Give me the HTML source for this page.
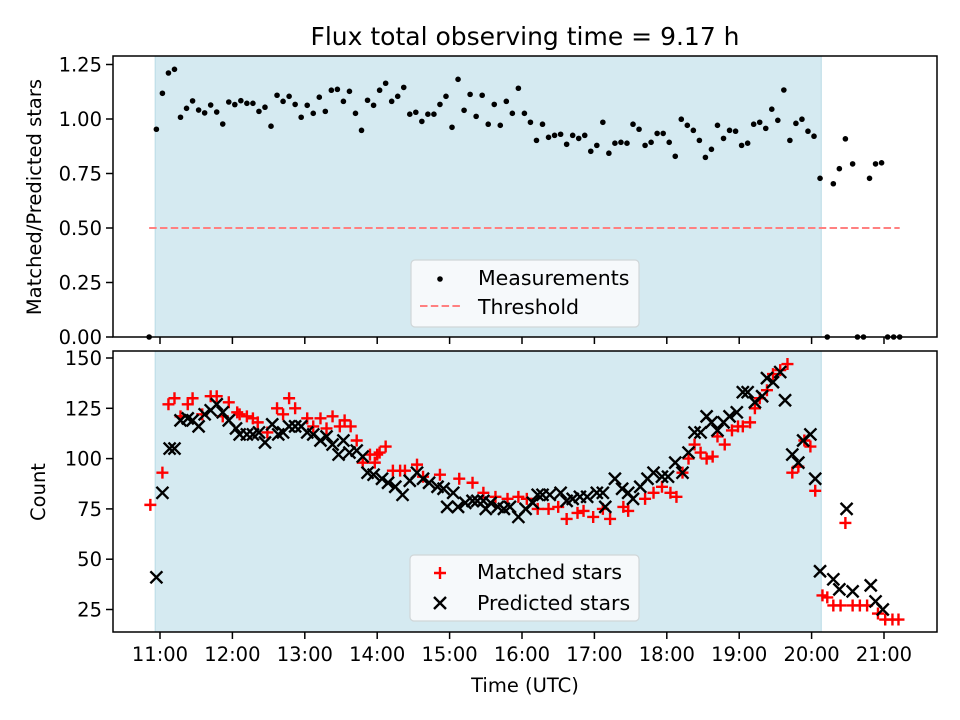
<!DOCTYPE html>
<html><head><meta charset="utf-8"><style>
body{margin:0;background:#fff}
svg{display:block;font-family:"DejaVu Sans","Liberation Sans",sans-serif}
</style></head><body>
<svg id="fig" width="960" height="720" viewBox="0 0 960 720" xmlns="http://www.w3.org/2000/svg"></svg>
<script>
// ---- data (times in minutes since midnight UTC) ----
const ratioTimes=[657,662,667,672,677,682,687,692,697,702,707,712,717,722,727,732,737,742,747,752,757,762,767,772,777,782,787,792,797,802,807,812,817,822,827,832,837,842,847,852,857,862,867,872,877,882,887,892,897,902,907,912,917,922,927,932,937,942,947,952,957,962,967,972,977,982,987,992,997,1002,1007,1012,1017,1022,1027,1032,1037,1042,1047,1052,1057,1062,1067,1072,1077,1082,1087,1092,1097,1102,1107,1112,1117,1122,1127,1132,1137,1142,1147,1152,1157,1162,1167,1172,1177,1182,1187,1192,1197,1202,1207,1218,1223,1228,1234,1248,1253,1258,651,1213,1238,1243,1263,1268,1273];
const ratioValues=[0.953,1.118,1.211,1.228,1.008,1.049,1.083,1.041,1.028,1.064,1.032,0.977,1.078,1.066,1.084,1.072,1.072,1.035,1.054,0.967,1.109,1.081,1.104,1.067,1.008,1.063,1.026,1.1,1.035,1.132,1.136,1.081,1.127,1.026,0.948,1.086,1.063,1.132,1.164,1.081,1.104,1.145,1.022,1.031,0.989,1.022,1.022,1.067,1.104,0.962,1.182,1.04,1.113,1.012,1.109,0.976,1.067,0.971,1.081,1.026,1.141,1.026,0.985,0.902,
0.976,0.916,0.925,0.93,0.884,0.925,0.911,0.925,0.852,0.879,0.985,0.843,0.889,0.893,0.889,0.976,0.953,0.879,0.893,0.934,0.934,0.893,0.829,0.999,0.971,0.948,0.902,0.824,0.861,0.971,0.911,0.948,0.944,0.879,0.889,0.976,0.985,0.957,1.045,0.994,1.133,0.902,0.98,0.999,0.944,0.921,0.728,
0.703,0.772,0.909,0.794,0.728,0.794,0.799,0,0,0,0,0,0,0];
const threshold=0.5;
const predTimes=[657,662,668,672,677,683,687,692,697,702,707,712,717,723,726,732,737,742,747,753,758,762,767,772,777,782,787,793,798,803,808,812,817,823,828,832,837,844,849,855,861,867,873,878,883,890,895,898,903,907,913,919,923,928,930,934,940,945,950,957,963,969,973,977,983,992,997,1002,1008,1014,1022,1027,1029,1037,1043,1048,1052,1058,1064,1069,1076,1081,1087,1093,1098,1103,1108,1113,1117,1122,1127,1132,1138,1143,1147,1153,1159,1163,1168,1174,1178,1184,1189,1193,1199,1203,1207,1218,1223,1229,1234,1249,1253,1259];
const predValues=[41,83,105,105,119,120,119,116,122,124,127,123,119,115,112,112,112,113,108,117,112,113,116,116,116,113,112,109,111,107,102,109,103,104,101,93,92,90,88,86,82,89,93,90,88,86,85,76,83,76,78,79,79,79,75,78,76,75,76,71,75,78,82,82,82,83,79,80,81,81,83,83,76,90,85,83,80,86,90,93,91,91,98,93,103,113,113,121,118,114,118,121,123,133,133,128,131,140,138,143,129,102,98,109,112,90,44,40,35,75,34,37,29,25];
const matchTimes=[652,662,667,672,677,683,687,695,702,707,712,717,724,726,732,737,741,749,757,762,767,772,782,787,793,798,803,809,813,818,823,828,834,838,840,842,847,853,859,863,873,878,892,908,919,928,938,948,957,964,973,982,990,997,1006,1011,1019,1027,1033,1044,1048,1062,1069,1076,1083,1088,1093,1098,1103,1108,1113,1118,1122,1128,1134,1139,1143,1149,1153,1157,1163,1168,1174,1180,1184,1189,1194,1199,1203,1209,1213,1218,1224,1228,1234,1240,1246,1255,1261,1267,1272];
const matchValues=[77,93,127,130,121,127,130,122,131,131,121,128,123,122,121,120,118,113,125,122,130,125,120,116,120,115,121,116,119,116,109,98,102,98,102,103,106,94,94,94,97,91,92,90,88,83,81,80,81,80,75,75,76,70,73,74,71,75,70,76,74,80,83,86,83,81,93,100,107,103,100,101,111,107,114,116,116,118,125,130,134,142,144,147,93,96,109,106,84,32,31,27,27,68,27,27,27,23,20,20,20];
const xTickLabels=["11:00","12:00","13:00","14:00","15:00","16:00","17:00","18:00","19:00","20:00","21:00"];
const xTickMinutes=[660,720,780,840,900,960,1020,1080,1140,1200,1260];
const topTicks=[0,0.25,0.5,0.75,1.0,1.25];
const topTickLabels=["0.00","0.25","0.50","0.75","1.00","1.25"];
const botTicks=[25,50,75,100,125,150];
const shadeStart=656, shadeEnd=1208;

// ---- layout ----
const NS="http://www.w3.org/2000/svg";
const svg=document.getElementById('fig');
const L=113,R=937,T1=56,B1=337,T2=351,B2=632;
const FS=19.5;
const x=m=>160+(m-660)*72.4/60;
const y1=v=>337-v*218;
const y2=v=>358+(150-v)*50.3/25;
function el(tag,attrs,parent){const e=document.createElementNS(NS,tag);for(const k in attrs)e.setAttribute(k,attrs[k]);(parent||svg).appendChild(e);return e;}
function txt(s,attrs,parent){const e=el('text',attrs,parent);e.textContent=s;return e;}

// title
let t=txt("Flux total observing time = 9.17 h",{x:525,y:45,'font-size':25,'text-anchor':'middle',fill:'#000'});



function panel(top,bot,name){
  const g=el('g',{});
  
  
  const sh=el('rect',{x:x(shadeStart),y:top,width:x(shadeEnd)-x(shadeStart),height:bot-top,fill:'#d5eaf1',stroke:'#b9dbe6','stroke-width':1},g);
  
  
  return g;
}
function frame(g,top,bot){
  const f=el('rect',{x:L,y:top,width:R-L,height:bot-top,fill:'none',stroke:'#000','stroke-width':1.5},g);
  
  
  xTickMinutes.forEach(m=>{
    const tk=el('line',{x1:x(m),x2:x(m),y1:bot,y2:bot+7,stroke:'#000','stroke-width':1.5},g);
    
    
  });
}

// ---- top panel ----
const g1=panel(T1,B1,'ratio-panel');
const thr=el('line',{x1:x(651),x2:x(1273),y1:y1(threshold),y2:y1(threshold),stroke:'#ff8080','stroke-width':2,'stroke-dasharray':'7.5,3.3'},g1);


ratioTimes.forEach((m,i)=>{
  const c=el('circle',{cx:x(m),cy:y1(ratioValues[i]),r:2.8,fill:'#000'},g1);
  
  
});
frame(g1,T1,B1);
topTicks.forEach((v,i)=>{
  const tk=el('line',{x1:L-7,x2:L,y1:y1(v),y2:y1(v),stroke:'#000','stroke-width':1.5},g1);
  
  
  const lb=txt(topTickLabels[i],{x:L-11,y:y1(v)+7,'font-size':FS,'text-anchor':'end'},g1);
  
  
});
let yl=txt("Matched/Predicted stars",{x:0,y:0,'font-size':FS,'text-anchor':'middle',transform:'translate(41,197) rotate(-90)'},g1);


// legend top
const lg1=el('g',{},g1);


el('rect',{x:411,y:260,width:228,height:67,rx:4,fill:'#f6f9fb',stroke:'#d0d6d8','stroke-width':1.2},lg1);
el('circle',{cx:440,cy:279,r:2.8,fill:'#000'},lg1);
txt("Measurements",{x:478,y:285,'font-size':20.5},lg1);
el('line',{x1:420,x2:462,y1:306,y2:306,stroke:'#ff8080','stroke-width':2,'stroke-dasharray':'7.5,3.3'},lg1);
txt("Threshold",{x:478,y:314,'font-size':20.5},lg1);

// ---- bottom panel ----
const g2=panel(T2,B2,'count-panel');
matchTimes.forEach((m,i)=>{
  const px=x(m),py=y2(matchValues[i]);
  const p=el('path',{d:`M${px-6},${py}H${px+6}M${px},${py-6}V${py+6}`,stroke:'#ff0000','stroke-width':2.4,fill:'none'},g2);
  
  
});
predTimes.forEach((m,i)=>{
  const px=x(m),py=y2(predValues[i]);
  const p=el('path',{d:`M${px-6},${py-6}L${px+6},${py+6}M${px-6},${py+6}L${px+6},${py-6}`,stroke:'#000','stroke-width':2.4,fill:'none'},g2);
  
  
});
frame(g2,T2,B2);
botTicks.forEach(v=>{
  const tk=el('line',{x1:L-7,x2:L,y1:y2(v),y2:y2(v),stroke:'#000','stroke-width':1.5},g2);
  
  
  const lb=txt(String(v),{x:L-11,y:y2(v)+7,'font-size':FS,'text-anchor':'end'},g2);
  
  
});
xTickMinutes.forEach((m,i)=>{
  const lb=txt(xTickLabels[i],{x:x(m),y:B2+29,'font-size':FS,'text-anchor':'middle'},g2);
  
  
});
let yl2=txt("Count",{x:0,y:0,'font-size':FS,'text-anchor':'middle',transform:'translate(45,492) rotate(-90)'},g2);


let xl=txt("Time (UTC)",{x:525,y:692,'font-size':FS,'text-anchor':'middle'},g2);


const lg2=el('g',{},g2);


el('rect',{x:410,y:555,width:229,height:66,rx:4,fill:'#f6f9fb',stroke:'#d0d6d8','stroke-width':1.2},lg2);
el('path',{d:'M434,573H446M440,567V579',stroke:'#ff0000','stroke-width':2.4},lg2);
txt("Matched stars",{x:477,y:579,'font-size':20.5},lg2);
el('path',{d:'M434,597L446,609M434,609L446,597',stroke:'#000','stroke-width':2.4},lg2);
txt("Predicted stars",{x:477,y:610,'font-size':20.5},lg2);
</script>
</body></html>
